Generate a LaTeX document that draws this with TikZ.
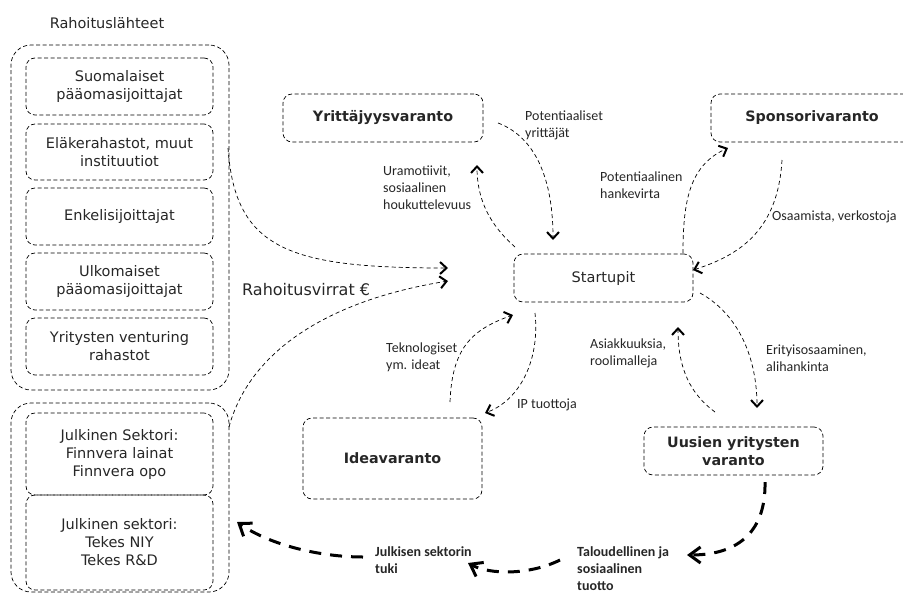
\documentclass[tikz,border=0pt]{standalone}
\usepackage{fontspec}
\setmainfont{DejaVu Sans}
\newfontfamily\labfont{Carlito}
\usetikzlibrary{arrows.meta}
\definecolor{ink}{HTML}{262626}
\begin{document}
\begin{tikzpicture}[x=1pt,y=-1pt,
  box/.style={draw=black, text=ink, line width=0.7pt, dash pattern=on 4pt off 2.5pt, rounded corners=9pt, align=center, inner sep=0pt, font=\fontsize{14.5}{18}\selectfont},
  bbox/.style={box, font=\fontsize{14.3}{18}\selectfont\bfseries},
  grp/.style={draw, line width=0.7pt, dash pattern=on 4pt off 2.5pt, rounded corners=20pt, inner sep=0pt},
  lab/.style={text=ink, align=left, anchor=west, inner sep=0pt, font=\labfont\fontsize{14}{17}\selectfont},
  blab/.style={lab, font=\labfont\bfseries\fontsize{14}{17}\selectfont},
  flow/.style={line width=0.7pt, dash pattern=on 4pt off 3pt, -{Straight Barb[length=6.5pt,width=12pt,line width=2pt]}},
  tflow/.style={line width=3pt, dash pattern=on 12pt off 9pt, -{Straight Barb[length=11pt,width=16pt,line width=3pt]}},
]
\useasboundingbox (0,0) rectangle (903,595);
\clip (0,0) rectangle (903,595);

% group boxes
\node[grp, minimum width=218pt, minimum height=345pt] (g1) at (120,217.5) {};
\node[grp, minimum width=218pt, minimum height=189pt] (g2) at (120,497.5) {};
\node[inner sep=0pt, text=ink, font=\fontsize{14.5}{18}\selectfont] (title) at (107,23) {Rahoituslähteet};

% funding sources
\node[box, minimum width=187pt, minimum height=57pt] (s1) at (119.5,86.5) {Suomalaiset\\pääomasijoittajat};
\node[box, minimum width=187pt, minimum height=56pt] (s2) at (119.5,152) {Eläkerahastot, muut\\instituutiot};
\node[box, minimum width=187pt, minimum height=57pt] (s3) at (119.5,216.5) {Enkelisijoittajat};
\node[box, minimum width=187pt, minimum height=57pt] (s4) at (119.5,281.5) {Ulkomaiset\\pääomasijoittajat};
\node[box, minimum width=187pt, minimum height=57pt] (s5) at (119.5,346.5) {Yritysten venturing\\rahastot};
\node[box, minimum width=187pt, minimum height=82pt] (s6) at (119.5,454) {Julkinen Sektori:\\Finnvera lainat\\Finnvera opo};
\node[box, minimum width=187pt, minimum height=95pt] (s7) at (119.5,542.5) {Julkinen sektori:\\Tekes NIY\\Tekes R\&D};

% pools
\node[bbox, minimum width=200pt, minimum height=48pt] (yv) at (383,118) {Yrittäjyysvaranto};
\node[bbox, minimum width=202pt, minimum height=48pt] (sv) at (812,118) {Sponsorivaranto};
\node[box, minimum width=179pt, minimum height=48pt] (st) at (603.5,278) {Startupit};
\node[bbox, minimum width=179pt, minimum height=81pt] (iv) at (392.5,458.5) {Ideavaranto};
\node[bbox, minimum width=179pt, minimum height=48pt] (uv) at (733.5,451) {Uusien yritysten\\varanto};

% labels
\node[inner sep=0pt, anchor=west, text=ink, font=\fontsize{16}{18}\selectfont] (rv) at (242,290) {Rahoitusvirrat €};
\node[lab] (l1) at (525,125) {Potentiaaliset\\yrittäjät};
\node[lab] (l2) at (383,188) {Uramotiivit,\\sosiaalinen\\houkuttelevuus};
\node[lab] (l3) at (600,185.5) {Potentiaalinen\\hankevirta};
\node[lab] (l4) at (772,217) {Osaamista, verkostoja};
\node[lab] (l5) at (766,358) {Erityisosaaminen,\\alihankinta};
\node[lab] (l6) at (590,353.5) {Asiakkuuksia,\\roolimalleja};
\node[lab] (l7) at (386,357) {Teknologiset\\ym. ideat};
\node[lab] (l8) at (517,405) {IP tuottoja};
\node[blab] (l9) at (577,569) {Taloudellinen ja\\sosiaalinen\\tuotto};
\node[blab] (l10) at (375,560.5) {Julkisen sektorin\\tuki};

% connector end points
\coordinate (a1s) at (228,148);  \coordinate (a1e) at (448,268);
\coordinate (a2s) at (229,427);  \coordinate (a2e) at (448,281);
\coordinate (a3s) at (498,123);  \coordinate (a3e) at (553,240);
\coordinate (a4s) at (515,247);  \coordinate (a4e) at (477,165);
\coordinate (a5s) at (683,253);  \coordinate (a5e) at (728,148);
\coordinate (a6s) at (782,160);  \coordinate (a6e) at (693,270);
\coordinate (a7s) at (700,293);  \coordinate (a7e) at (757,408);
\coordinate (a8s) at (715,412);  \coordinate (a8e) at (678,327);
\coordinate (a9s) at (535,313);  \coordinate (a9e) at (485,413);
\coordinate (a10s) at (450,402); \coordinate (a10e) at (513,315);
\coordinate (b1s) at (765,482);  \coordinate (b1e) at (687,555);
\coordinate (b2s) at (560,560);  \coordinate (b2e) at (468,563);
\coordinate (b3s) at (363,557);  \coordinate (b3e) at (237,522);

% thin flows
\draw[flow] (a1s) .. controls (235,250) and (290,268) .. (a1e);
\draw[flow] (a2s) .. controls (250,350) and (330,300) .. (a2e);
\draw[flow] (a3s) .. controls (530,135) and (553,170) .. (a3e);
\draw[flow] (a4s) .. controls (490,225) and (477,200) .. (a4e);
\draw[flow] (a5s) .. controls (683,200) and (690,165) .. (a5e);
\draw[flow] (a6s) .. controls (778,230) and (740,255) .. (a6e);
\draw[flow] (a7s) .. controls (740,315) and (757,360) .. (a7e);
\draw[flow] (a8s) .. controls (685,390) and (678,360) .. (a8e);
\draw[flow] (a9s) .. controls (540,360) and (520,400) .. (a9e);
\draw[flow] (a10s) .. controls (452,350) and (470,330) .. (a10e);

% thick flows
\draw[tflow] (b1s) .. controls (766,530) and (740,555) .. (b1e);
\draw[tflow] (b2s) .. controls (530,575) and (490,575) .. (b2e);
\draw[tflow] (b3s) .. controls (320,557) and (270,545) .. (b3e);
\end{tikzpicture}
\end{document}
